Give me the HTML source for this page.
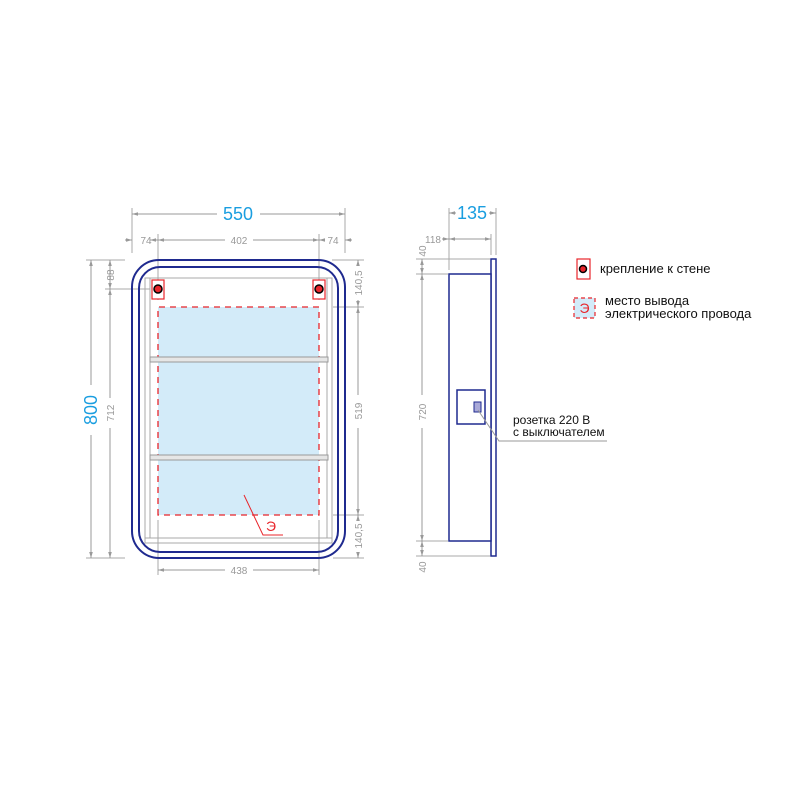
<!DOCTYPE html>
<html><head><meta charset="utf-8"><style>html,body{margin:0;padding:0;background:#fff;width:800px;height:800px;overflow:hidden}</style></head>
<body>
<svg width="800" height="800" viewBox="0 0 800 800" xmlns="http://www.w3.org/2000/svg" font-family="Liberation Sans, sans-serif">
<defs>
<marker id="a" viewBox="0 0 10 10" refX="10" refY="5" markerWidth="6" markerHeight="6" orient="auto-start-reverse"><path d="M0,2 L10,5 L0,8 z" fill="#999"/></marker>
</defs>
<g stroke="#a8a8a8" stroke-width="1" fill="none">
<!-- front view extension lines -->
<line x1="132" y1="208" x2="132" y2="253"/><line x1="345" y1="208" x2="345" y2="253"/>
<line x1="158" y1="234" x2="158" y2="300"/><line x1="319" y1="234" x2="319" y2="300"/>
<line x1="86" y1="260" x2="125" y2="260"/><line x1="105" y1="289" x2="150" y2="289"/>
<line x1="86" y1="558" x2="125" y2="558"/>
<line x1="332" y1="260" x2="364" y2="260"/><line x1="333" y1="307" x2="364" y2="307"/>
<line x1="333" y1="515" x2="364" y2="515"/><line x1="333" y1="558" x2="364" y2="558"/>
<line x1="158" y1="520" x2="158" y2="575"/><line x1="319" y1="520" x2="319" y2="575"/>
<!-- grey inner frames -->
<rect x="145" y="278" width="187" height="265"/>
<line x1="150" y1="278" x2="150" y2="538"/><line x1="327" y1="278" x2="327" y2="538"/>
<line x1="145" y1="538" x2="332" y2="538"/>
</g>
<!-- dims -->
<g stroke="#999" stroke-width="1" fill="none">
<line x1="132" y1="214" x2="217" y2="214" marker-start="url(#a)"/><line x1="260" y1="214" x2="345" y2="214" marker-end="url(#a)"/>
<line x1="125" y1="240" x2="132" y2="240" marker-end="url(#a)"/><line x1="158" y1="240" x2="150" y2="240" marker-end="url(#a)"/>
<line x1="158" y1="240" x2="225" y2="240" marker-start="url(#a)"/><line x1="253" y1="240" x2="319" y2="240" marker-end="url(#a)"/>
<line x1="319" y1="240" x2="325" y2="240" marker-start="url(#a)"/><line x1="345" y1="240" x2="352" y2="240" marker-start="url(#a)"/>
<line x1="91" y1="260" x2="91" y2="385" marker-start="url(#a)"/><line x1="91" y1="435" x2="91" y2="558" marker-end="url(#a)"/>
<line x1="110" y1="260" x2="110" y2="275" marker-start="url(#a)"/><line x1="110" y1="289" x2="110" y2="275" marker-start="url(#a)"/>
<line x1="110" y1="289" x2="110" y2="398" marker-start="url(#a)"/><line x1="110" y1="428" x2="110" y2="558" marker-end="url(#a)"/>
<line x1="358" y1="260" x2="358" y2="266" marker-start="url(#a)"/><line x1="358" y1="300" x2="358" y2="307" marker-end="url(#a)"/>
<line x1="358" y1="307" x2="358" y2="395" marker-start="url(#a)"/><line x1="358" y1="428" x2="358" y2="515" marker-end="url(#a)"/>
<line x1="358" y1="515" x2="358" y2="520" marker-start="url(#a)"/><line x1="358" y1="552" x2="358" y2="558" marker-end="url(#a)"/>
<line x1="158" y1="570" x2="225" y2="570" marker-start="url(#a)"/><line x1="253" y1="570" x2="319" y2="570" marker-end="url(#a)"/>
</g>
<g fill="#999" font-size="10" text-anchor="middle">
<text x="146" y="244">74</text><text x="239" y="244">402</text><text x="333" y="244">74</text>
<text x="239" y="574">438</text>
<text transform="translate(114,275) rotate(-90)">88</text>
<text transform="translate(114,413) rotate(-90)">712</text>
<text transform="translate(362,283) rotate(-90)">140,5</text>
<text transform="translate(362,411) rotate(-90)">519</text>
<text transform="translate(362,536) rotate(-90)">140,5</text>
</g>
<text x="238" y="220" fill="#1a9ee0" font-size="18" text-anchor="middle">550</text>
<text transform="translate(97,410) rotate(-90)" fill="#1a9ee0" font-size="18" text-anchor="middle">800</text>
<!-- blue zone -->
<rect x="158" y="307" width="161" height="208" fill="#d3ebf9"/>
<path d="M158,515 L158,307 L319,307 L319,515 Z" fill="none" stroke="#e8252b" stroke-width="1.3" stroke-dasharray="6,5"/>
<!-- shelves -->
<rect x="150" y="357" width="178" height="5" fill="#e6e6e6" stroke="#999"/>
<rect x="150" y="455" width="178" height="5" fill="#e6e6e6" stroke="#999"/>
<!-- mirror outlines -->
<rect x="132" y="260" width="213" height="298" rx="27" fill="none" stroke="#1f2a8f" stroke-width="2"/>
<rect x="139" y="267" width="199" height="285" rx="21" fill="none" stroke="#1f2a8f" stroke-width="2"/>
<!-- brackets -->
<rect x="152" y="280" width="12" height="19" fill="#fff" stroke="#e8252b" stroke-width="1.2"/>
<circle cx="158" cy="289" r="4" fill="#e8252b" stroke="#000" stroke-width="1.5"/>
<rect x="313" y="280" width="12" height="19" fill="#fff" stroke="#e8252b" stroke-width="1.2"/>
<circle cx="319" cy="289" r="4" fill="#e8252b" stroke="#000" stroke-width="1.5"/>
<polyline points="244,495 263,535 283,535" fill="none" stroke="#e8252b" stroke-width="1"/>
<text x="266" y="531" fill="#e8252b" font-size="14">Э</text>

<!-- side view -->
<g stroke="#a8a8a8" stroke-width="1" fill="none">
<line x1="449" y1="208" x2="449" y2="270"/><line x1="496" y1="208" x2="496" y2="255"/>
<line x1="491" y1="234" x2="491" y2="255"/>
<line x1="416" y1="259" x2="490" y2="259"/><line x1="416" y1="274" x2="448" y2="274"/>
<line x1="416" y1="541" x2="448" y2="541"/><line x1="416" y1="556" x2="490" y2="556"/>
</g>
<g stroke="#999" stroke-width="1" fill="none">
<line x1="449" y1="213" x2="456" y2="213" marker-start="url(#a)"/><line x1="489" y1="213" x2="496" y2="213" marker-end="url(#a)"/>
<line x1="442" y1="239" x2="449" y2="239" marker-end="url(#a)"/><line x1="449" y1="239" x2="491" y2="239" marker-start="url(#a)" marker-end="url(#a)"/>
<line x1="422" y1="259" x2="422" y2="274" marker-start="url(#a)" marker-end="url(#a)"/>
<line x1="422" y1="274" x2="422" y2="395" marker-start="url(#a)"/><line x1="422" y1="428" x2="422" y2="541" marker-end="url(#a)"/>
<line x1="422" y1="541" x2="422" y2="556" marker-start="url(#a)" marker-end="url(#a)"/>
</g>
<text x="472" y="219" fill="#1a9ee0" font-size="18" text-anchor="middle">135</text>
<g fill="#999" font-size="10" text-anchor="middle">
<text x="433" y="243">118</text>
<text transform="translate(426,251) rotate(-90)">40</text>
<text transform="translate(426,412) rotate(-90)">720</text>
<text transform="translate(426,567) rotate(-90)">40</text>
</g>
<rect x="491" y="259" width="5" height="297" fill="#fff" stroke="#1f2a8f" stroke-width="1.5"/>
<rect x="449" y="274" width="42" height="267" fill="#fff" stroke="#1f2a8f" stroke-width="1.5"/>
<rect x="457" y="390" width="28" height="34" fill="#fff" stroke="#1f2a8f" stroke-width="1.5"/>
<rect x="474" y="402" width="7" height="10" fill="#a9a9d8" stroke="#1f2a8f" stroke-width="1"/>
<polyline points="478,410 499,441 607,441" fill="none" stroke="#999" stroke-width="1"/>
<g fill="#111" font-size="12">
<text x="513" y="424">розетка 220 В</text>
<text x="513" y="436">с выключателем</text>
</g>
<!-- legend -->
<rect x="577" y="259" width="13" height="20" fill="#fff" stroke="#e8252b" stroke-width="1.2"/>
<circle cx="583" cy="269" r="3.5" fill="#e8252b" stroke="#000" stroke-width="1.5"/>
<text x="600" y="273" fill="#111" font-size="13">крепление к стене</text>
<rect x="574" y="298" width="21" height="20" fill="#d3ebf9" stroke="#e8252b" stroke-width="1.2" stroke-dasharray="4,3"/>
<text x="584.5" y="313" fill="#e8252b" font-size="14" text-anchor="middle">Э</text>
<g fill="#111" font-size="13">
<text x="605" y="305">место вывода</text>
<text x="605" y="318">электрического провода</text>
</g>
</svg>
</body></html>
